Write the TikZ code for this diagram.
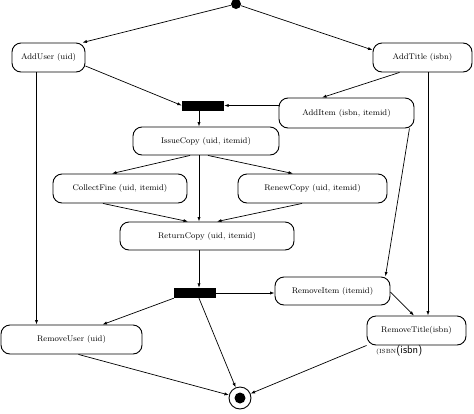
\documentclass[tikz,border=0pt]{standalone}
\usepackage{fontspec}
\usetikzlibrary{arrows.meta}
\begin{document}
\begin{tikzpicture}[x=1pt,y=-1pt,
		act/.style={rectangle, rounded corners=9pt, draw=black, line width=0.9pt, minimum height=29pt, inner sep=0pt, font=\fontsize{8.2}{9}\selectfont},
		bar/.style={rectangle, fill=black, minimum width=42pt, minimum height=10pt, inner sep=0pt},
		flow/.style={-{Latex[length=4.5pt,width=3.2pt]}, line width=0.7pt}]
		\useasboundingbox (0,0) rectangle (474,413);
		% start and end
		\node[circle, fill=black, minimum size=10pt, inner sep=0pt] (start) at (236,4) {};
		\node[circle, draw=black, line width=0.9pt, minimum size=22pt, inner sep=0pt] (end) at (240,398) {};
		\fill (end.center) circle (5.5pt);
		% activities
		\node[act, minimum width=73pt] (adduser) at (48.5,57.5) {AddUser (uid)};
		\node[act, minimum width=99pt] (addtitle) at (422.5,57.5) {AddTitle (isbn)};
		\node[bar] (fork1) at (203,105.5) {};
		\node[act, minimum width=135pt, minimum height=30pt] (additem) at (346.5,113) {AddItem (isbn, itemid)};
		\node[act, minimum width=146pt, minimum height=28pt] (issuecopy) at (206,141) {IssueCopy (uid, itemid)};
		\node[act, minimum width=134pt] (collectfine) at (120,188.5) {CollectFine (uid, itemid)};
		\node[act, minimum width=149pt] (renewcopy) at (312.5,188.5) {RenewCopy (uid, itemid)};
		\node[act, minimum width=174pt, minimum height=28pt] (returncopy) at (207,236) {ReturnCopy (uid, itemid)};
		\node[bar] (fork2) at (195,293) {};
		\node[act, minimum width=115pt, minimum height=28pt] (removeitem) at (332.5,291) {RemoveItem (itemid)};
		\node[act, minimum width=99pt, font=\fontsize{8.2}{9}\selectfont\addfontfeatures{LetterSpace=18}] (removetitle) at (416.5,330.5) {RemoveTitle(isbn)};
		\node[anchor=west, inner sep=0pt] (isbnnote) at (376,351) {{\fontsize{6}{7}\selectfont (ISBN}{\sffamily\fontsize{11}{12}\selectfont(isbn)}};
		\node[act, minimum width=141pt] (removeuser) at (71.5,339.5) {RemoveUser (uid)};
		% flows
		\draw[flow] (start) -- ([xshift=-3pt]adduser.north east);
		\draw[flow] (start) -- ([yshift=7.5pt]addtitle.west);
		\draw[flow] ([yshift=-8.5pt]adduser.east) -- (fork1.west);
		\draw[flow] (additem.west |- fork1.east) -- (fork1.east);
		\draw[flow] ([xshift=-23pt]addtitle.south) -- ([xshift=-24.5pt]additem.north);
		\draw[flow] ([xshift=-4pt]fork1.south) -- ([xshift=-4pt]fork1.south |- issuecopy.north);
		\draw[flow] ([xshift=-16pt]issuecopy.south) -- ([xshift=-8pt]collectfine.north);
		\draw[flow] ([xshift=-7pt]issuecopy.south) -- ([xshift=-7pt]issuecopy.south |- returncopy.north);
		\draw[flow] ([xshift=2pt]issuecopy.south) -- ([xshift=-19.5pt]renewcopy.north);
		\draw[flow] ([xshift=-17pt]collectfine.south) -- ([xshift=-19pt]returncopy.north);
		\draw[flow] ([xshift=-10.5pt]renewcopy.south) -- ([xshift=10pt]returncopy.north);
		\draw[flow] ([xshift=-8pt]returncopy.south) -- ([xshift=-8pt]returncopy.south |- fork2.north);
		\draw[flow] (fork2.east) -- (removeitem.west |- fork2.east);
		\draw[flow] (fork2.south west) -- ([xshift=31pt]removeuser.north);
		\draw[flow] ([xshift=4pt]fork2.south) -- (end);
		\draw[flow] ([xshift=-12pt]adduser.south) -- ([xshift=-12pt]adduser.south |- removeuser.north);
		\draw[flow] ([xshift=-5pt]additem.south east) -- ([xshift=-5pt]removeitem.north east);
		\draw[flow] ([xshift=5.5pt]addtitle.south) -- ([xshift=5.5pt]addtitle.south |- removetitle.north);
		\draw[flow] ([yshift=-1pt]removeitem.east) -- ([xshift=-2.5pt]removetitle.north);
		\draw[flow] ([xshift=7pt]removeuser.south) -- (end);
		\draw[flow] (removetitle.south west) -- (end);
	\end{tikzpicture}
\end{document}
